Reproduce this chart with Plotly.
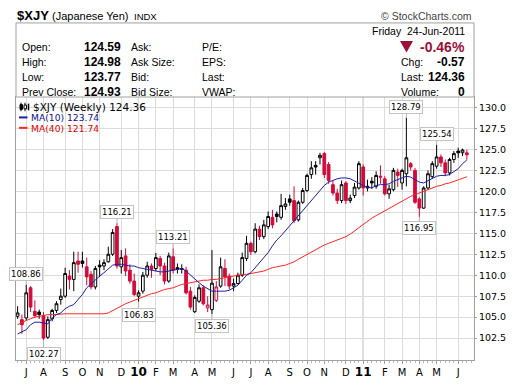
import plotly.graph_objects as go
import pandas as pd

# ---------------- data ----------------
week_start = "2009-06-22"
n_weeks = 105
dates = pd.date_range(week_start, periods=n_weeks, freq="7D")

opens = [105.1, 104.7, 104.9, 108.5, 105.7, 105.6, 105.2, 102.6, 104.8, 105.8,
         107.1, 107.5, 109.9, 109.5, 111.7, 111.7, 111.0, 110.1, 108.6, 111.2,
         111.1, 111.6, 112.5, 115.8, 111.0, 112.3, 110.6, 109.3, 107.5, 108.1,
         110.0, 111.1, 110.8, 112.0, 111.1, 109.3, 112.2, 110.9, 110.7, 110.6,
         108.1, 105.65, 106.9, 108.5, 106.1, 105.9, 107.0, 108.7, 110.8, 109.9,
         108.7, 109.0, 110.0, 112.0, 113.8, 112.8, 115.5, 114.6, 115.8, 116.9,
         117.3, 116.9, 118.2, 119.1, 118.9, 116.6, 118.7, 120.1, 122.0, 123.1,
         124.0, 124.5, 123.2, 120.8, 119.8, 118.9, 121.0, 118.9, 119.5, 120.4,
         122.9, 120.4, 121.2, 120.6, 121.8, 121.5, 119.7, 120.2, 122.3, 121.0,
         122.1, 123.3, 122.5, 119.1, 118.0, 120.4, 121.75, 123.0, 124.1, 123.4,
         122.2, 123.8, 124.8, 124.6, 124.59]
highs = [106.3, 105.3, 108.86, 108.7, 107.0, 105.9, 105.6, 105.1, 106.0, 106.9,
         108.4, 110.9, 110.6, 112.8, 112.8, 112.8, 112.1, 110.5, 111.1, 111.8,
         111.9, 113.4, 115.5, 116.21, 113.0, 113.2, 111.3, 110.2, 108.2, 110.4,
         111.6, 111.4, 112.65, 112.3, 111.5, 112.7, 113.21, 111.4, 111.3, 111.0,
         108.6, 107.6, 108.9, 108.8, 107.5, 113.0, 109.3, 112.1, 111.9, 110.2,
         109.6, 110.3, 112.7, 114.7, 114.0, 116.2, 115.9, 116.6, 117.6, 117.8,
         117.6, 119.7, 119.2, 119.6, 120.6, 118.9, 120.4, 122.1, 123.6, 123.6,
         124.6, 124.7, 123.5, 121.3, 120.3, 121.3, 121.2, 119.6, 121.0, 123.6,
         123.2, 121.4, 121.7, 122.4, 123.1, 121.8, 120.8, 122.8, 122.7, 122.7,
         128.79, 123.5, 122.8, 119.3, 120.6, 122.5, 123.6, 125.54, 124.4, 123.8,
         124.0, 124.8, 125.2, 125.1, 124.98]
lows = [104.8, 103.0, 104.6, 105.6, 104.9, 104.8, 102.27, 102.4, 104.5, 105.5,
        106.5, 107.3, 108.3, 108.1, 110.3, 110.9, 108.8, 108.3, 108.3, 109.8,
        110.6, 111.5, 112.3, 110.8, 110.2, 109.9, 109.0, 107.5, 106.83, 107.8,
        109.7, 109.7, 110.5, 110.0, 108.9, 109.1, 110.2, 110.2, 110.2, 107.7,
        105.9, 105.5, 106.7, 106.4, 105.6, 105.36, 106.8, 108.5, 108.7, 108.3,
        108.1, 108.9, 109.8, 111.7, 112.4, 112.6, 114.2, 114.3, 115.5, 115.6,
        116.3, 116.6, 117.8, 118.3, 116.2, 116.4, 118.5, 119.9, 121.5, 122.0,
        123.2, 121.6, 120.9, 119.5, 118.5, 118.6, 118.5, 118.6, 119.2, 120.2,
        119.5, 120.0, 120.3, 120.3, 120.9, 119.5, 119.1, 120.0, 120.5, 120.2,
        120.6, 122.5, 118.5, 116.95, 117.9, 120.2, 121.5, 122.7, 122.9, 121.8,
        121.9, 123.4, 124.0, 124.2, 123.77]
closes = [105.5, 104.1, 107.9, 106.2, 105.2, 105.3, 102.5, 104.7, 105.8, 106.6,
          107.5, 110.2, 109.5, 111.5, 111.3, 111.4, 109.8, 108.6, 110.8, 111.0,
          111.5, 112.5, 115.1, 111.1, 112.1, 110.5, 109.3, 107.7, 107.9, 110.0,
          111.1, 110.7, 112.1, 111.1, 109.3, 112.3, 110.6, 110.7, 110.8, 107.9,
          106.2, 107.35, 108.5, 106.6, 106.45, 109.05, 108.6, 111.0, 109.8, 108.7,
          109.0, 110.0, 112.1, 113.8, 112.8, 115.5, 114.6, 116.0, 117.0, 116.0,
          117.0, 118.3, 118.5, 118.7, 116.5, 118.7, 120.1, 121.9, 122.8, 122.9,
          124.3, 122.0, 121.3, 119.8, 118.9, 120.8, 118.9, 119.2, 120.5, 123.3,
          120.4, 120.6, 121.0, 121.9, 121.7, 119.7, 120.3, 122.5, 121.9, 122.5,
          124.0, 122.9, 118.7, 118.0, 120.4, 122.1, 123.3, 124.1, 123.4, 122.2,
          123.8, 124.5, 124.6, 124.93, 124.36]
ma10 = [103.0, 103.3, 103.5, 104.1, 104.4, 104.4, 104.3, 104.2, 104.9, 105.3,
        105.5, 106.0, 106.3, 106.5, 107.1, 107.7, 108.5, 109.0, 109.5, 109.9,
        110.3, 110.7, 111.2, 111.3, 111.3, 111.2, 111.1, 111.1, 110.9, 110.8,
        110.7, 110.6, 110.5, 110.4, 110.4, 110.5, 110.6, 110.7, 110.8, 110.5,
        110.0, 109.5, 109.1, 108.7, 108.4, 108.1, 108.1, 108.1, 108.1, 108.2,
        108.5, 108.8, 109.4, 110.0, 110.3, 110.9, 111.6, 112.1, 112.7, 113.5,
        114.2, 114.7, 115.3, 116.0, 116.5, 117.1, 117.7, 118.3, 118.9, 119.5,
        120.2, 120.7, 121.1, 121.3, 121.5, 121.6, 121.6, 121.5, 121.2, 121.0,
        120.7, 120.5, 120.4, 120.7, 120.8, 120.8, 120.9, 121.2, 121.4, 121.6,
        121.8, 121.7, 121.4, 121.1, 121.0, 121.3, 121.6, 121.8, 121.9, 121.9,
        122.0, 122.3, 122.7, 123.3, 123.74]
ma40 = [104.1, 104.4, 104.6, 104.8, 105.0, 105.1, 105.2, 105.3, 105.3, 105.35,
        105.4, 105.4, 105.4, 105.4, 105.4, 105.4, 105.4, 105.4, 105.4, 105.4,
        105.4, 105.5, 105.8, 106.0, 106.3, 106.6, 106.8, 107.0, 107.2, 107.4,
        107.6, 107.8, 107.9, 108.1, 108.3, 108.4, 108.5, 108.7, 108.9, 109.0,
        109.1, 109.2, 109.3, 109.4, 109.4, 109.5, 109.5, 109.6, 109.7, 109.8,
        109.9, 110.0, 110.1, 110.1, 110.2, 110.3, 110.4, 110.5, 110.7, 110.9,
        111.0, 111.1, 111.2, 111.4, 111.6, 111.9, 112.2, 112.5, 112.8, 113.1,
        113.4, 113.6, 113.8, 114.0, 114.2, 114.4, 114.6, 114.9, 115.3, 115.7,
        116.1, 116.5, 116.8, 117.1, 117.4, 117.7, 118.0, 118.3, 118.6, 118.8,
        119.1, 119.4, 119.6, 119.8, 120.0, 120.2, 120.4, 120.6, 120.7, 120.9,
        121.0, 121.2, 121.4, 121.6, 121.74]

month_ticks = ["2009-07-06", "2009-08-03", "2009-09-07", "2009-10-05", "2009-11-02",
               "2009-12-07", "2010-01-04", "2010-02-01", "2010-03-01", "2010-04-05",
               "2010-05-03", "2010-06-07", "2010-07-05", "2010-08-02", "2010-09-06",
               "2010-10-04", "2010-11-01", "2010-12-06", "2011-01-03", "2011-02-07",
               "2011-03-07", "2011-04-04", "2011-05-02", "2011-06-06"]
month_labels = ["J", "A", "S", "O", "N", "D", "10", "F", "M", "A", "M", "J",
                "J", "A", "S", "O", "N", "D", "11", "F", "M", "A", "M", "J"]
ytick_vals = [102.5, 105.0, 107.5, 110.0, 112.5, 115.0, 117.5, 120.0, 122.5, 125.0, 127.5, 130.0]

# labelled highs / lows: (week index, which, pixel offset of the tag)
tag_points = [(2, "high", -11), (6, "low", 14), (23, "high", -11), (28, "low", 13),
              (36, "high", -11), (45, "low", 12), (90, "high", -11), (97, "high", -11),
              (93, "low", 11)]

# ---------------- style ----------------
RED = "#d40a3a"
BLACK = "#000000"
BLUE = "#1e1ea8"
MARED = "#ff2626"
GRID = "#dcdcdc"
FRAME = "#a0a0a0"
DARKRED = "#9b1139"

W, H = 520, 391
L, R, T, B = 16, 474, 97, 374


def px(x):
    return (x - L) / (R - L)


def py(y):
    return (B - y) / (B - T)


# split candles by colour (black: close >= previous close)
blk = [i for i in range(n_weeks) if i == 0 or closes[i] >= closes[i - 1]]
red = [i for i in range(n_weeks) if not (i == 0 or closes[i] >= closes[i - 1])]


def sub(arr, idx):
    return [arr[i] for i in idx]


fig = go.Figure()
for idx, col in ((blk, BLACK), (red, RED)):
    fig.add_trace(go.Candlestick(
        x=sub(dates, idx), open=sub(opens, idx), high=sub(highs, idx),
        low=sub(lows, idx), close=sub(closes, idx),
        increasing=dict(line=dict(color=col, width=1), fillcolor="#ffffff"),
        decreasing=dict(line=dict(color=col, width=1), fillcolor=col),
        whiskerwidth=0, hoverinfo="skip", showlegend=False))

fig.add_trace(go.Scatter(x=dates, y=ma40, mode="lines", line=dict(color=MARED, width=1),
                         hoverinfo="skip", showlegend=False))
fig.add_trace(go.Scatter(x=dates, y=ma10, mode="lines", line=dict(color=BLUE, width=1),
                         hoverinfo="skip", showlegend=False))

ann = []
shapes = []

# price tags
for i, which, off in tag_points:
    val = highs[i] if which == "high" else lows[i]
    ann.append(dict(x=dates[i], y=val, xref="x", yref="y", text=f"{val:.2f}",
                    showarrow=True, arrowhead=0, arrowwidth=1, arrowcolor="#b4b4b4",
                    ax=0, ay=off, standoff=0, bgcolor="#ffffff", bordercolor="#c4c4c4",
                    borderwidth=1, borderpad=1,
                    font=dict(family="DejaVu Sans", size=8.5, color="#000")))

# year gridlines (darker)
for d, lbl in zip(month_ticks, month_labels):
    if lbl.isdigit():
        shapes.append(dict(type="line", xref="x", yref="paper", x0=d, x1=d, y0=0, y1=1,
                           line=dict(color="#a8a8a8", width=1), layer="below"))

# header box
shapes.append(dict(type="rect", xref="paper", yref="paper", x0=px(16), x1=px(474),
                   y0=py(97), y1=py(19), line=dict(color=FRAME, width=1), fillcolor="#fff"))
# down triangle
shapes.append(dict(type="path", xref="paper", yref="paper",
                   path=f"M {px(400)} {py(38)} L {px(413)} {py(38)} L {px(406.5)} {py(50)} Z",
                   line=dict(color=DARKRED, width=0), fillcolor=DARKRED))
# legend icon & dashes
shapes += [
    dict(type="line", xref="paper", yref="paper", x0=px(21), x1=px(21), y0=py(103), y1=py(112),
         line=dict(color="#000", width=1)),
    dict(type="rect", xref="paper", yref="paper", x0=px(20), x1=px(22.5), y0=py(105), y1=py(110),
         line=dict(color="#000", width=1), fillcolor="#000"),
    dict(type="line", xref="paper", yref="paper", x0=px(25), x1=px(25), y0=py(103), y1=py(112),
         line=dict(color="#000", width=1)),
    dict(type="rect", xref="paper", yref="paper", x0=px(24), x1=px(26.5), y0=py(105.5), y1=py(109.5),
         line=dict(color="#000", width=1), fillcolor="#fff"),
    dict(type="line", xref="paper", yref="paper", x0=px(28.5), x1=px(28.5), y0=py(104), y1=py(111),
         line=dict(color="#000", width=1.5)),
    dict(type="line", xref="paper", yref="paper", x0=px(19), x1=px(27.5), y0=py(118.5), y1=py(118.5),
         line=dict(color=BLUE, width=2)),
    dict(type="line", xref="paper", yref="paper", x0=px(19), x1=px(27.5), y0=py(129.5), y1=py(129.5),
         line=dict(color=MARED, width=2)),
]


def txt(x, y, s, anchor="left", size=10.5, bold=False, color="#000", family="Liberation Sans"):
    if bold:
        s = f"<b>{s}</b>"
    ann.append(dict(xref="paper", yref="paper", x=px(x), y=py(y), text=s, showarrow=False,
                    xanchor=anchor, yanchor="middle",
                    font=dict(family=family, size=size, color=color)))


# title row
txt(15, 11.5, "$XJY", size=13, bold=True)
txt(50, 12, "(Japanese Yen)", size=11)
txt(132, 12, "INDX", size=9.5)
txt(474, 12, "© StockCharts.com", anchor="right", size=10.5, color="#444")

last = closes[-1]
prev = closes[-2]
chg = last - prev
pct = chg / prev * 100

txt(467, 28, "Friday&nbsp;&nbsp;24-Jun-2011", anchor="right")
txt(467, 44, f"{pct:.2f}%", anchor="right", size=14, bold=True, color=DARKRED)
txt(399, 60, "Chg:")
txt(467, 60, f"{chg:.2f}", anchor="right", size=12, bold=True)
txt(399, 76, "Last:")
txt(467, 76, f"{last:.2f}", anchor="right", size=12, bold=True)
txt(399, 92, "Volume:")
txt(467, 92, "0", anchor="right", size=12, bold=True)

rows = [("Open:", opens[-1], "Ask:", "P/E:"),
        ("High:", highs[-1], "Ask Size:", "EPS:"),
        ("Low:", lows[-1], "Bid:", "Last:"),
        ("Prev Close:", prev, "Bid Size:", "VWAP:")]
for k, (a, v, b, c) in enumerate(rows):
    yy = 44 + k * 16
    txt(20, yy, a)
    txt(82, yy, f"{v:.2f}", size=12, bold=True)
    txt(129, yy, b)
    txt(200, yy, c)

# in-chart legend
txt(31, 107.5, f"$XJY (Weekly) {last:.2f}", size=10.5, family="DejaVu Sans")
txt(29, 119, f"MA(10) {ma10[-1]:.2f}", size=9.2, family="DejaVu Sans", color="#10108c")
txt(29, 130, f"MA(40) {ma40[-1]:.2f}", size=9.2, family="DejaVu Sans", color="#e60000")

ticktext = [f"<span style='font-size:12px'><b>{l}</b></span>" if l.isdigit() else l
            for l in month_labels]

fig.update_layout(
    width=W, height=H,
    margin=dict(l=L, r=W - R, t=T, b=H - B, pad=0),
    paper_bgcolor="#ffffff", plot_bgcolor="#ffffff",
    showlegend=False, boxgap=0.1,
    annotations=ann, shapes=shapes,
    xaxis=dict(type="date", range=["2009-06-19 10:00", "2011-07-01 14:00"],
               rangeslider=dict(visible=False),
               tickvals=month_ticks, ticktext=ticktext,
               showgrid=True, gridcolor=GRID, gridwidth=1,
               showline=True, linecolor=FRAME, linewidth=1, mirror=True,
               ticks="outside", ticklen=3, tickcolor=FRAME,
               minor=dict(ticks="outside", ticklen=2, tickcolor="#b8b8b8",
                          dtick=7 * 86400000, tick0=week_start, showgrid=False),
               tickfont=dict(family="DejaVu Sans", size=10, color="#000"),
               zeroline=False, fixedrange=True),
    yaxis=dict(range=[99.89, 131.25], side="right",
               tickvals=ytick_vals, ticktext=[f"{v:.1f}" for v in ytick_vals],
               showgrid=True, gridcolor=GRID, gridwidth=1,
               showline=True, linecolor=FRAME, linewidth=1, mirror=True,
               ticks="outside", ticklen=2, tickcolor=FRAME,
               tickfont=dict(family="DejaVu Sans", size=9.5, color="#000"),
               zeroline=False, fixedrange=True),
)

fig.write_html("out.html", config={"displayModeBar": False},
               post_script="document.body.style.margin='0px';")
